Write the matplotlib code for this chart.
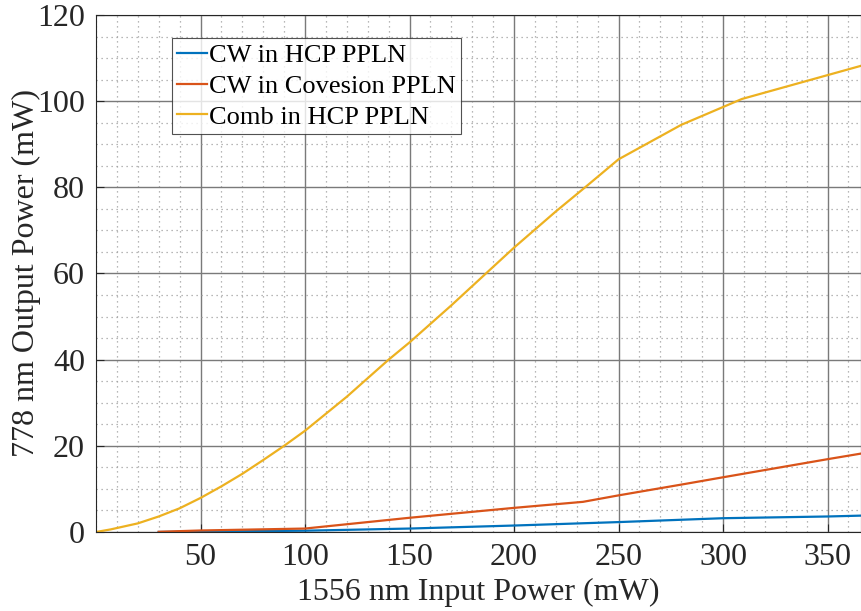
import matplotlib
matplotlib.use("Agg")
import matplotlib.pyplot as plt
from matplotlib.ticker import MultipleLocator

plt.rcParams['font.family'] = ['Liberation Serif', 'DejaVu Serif']

# Measured conversion curves (input power in mW -> SHG output power in mW)
cw_hcp_x = [30, 50, 100, 150, 200, 250, 300, 350, 366]
cw_hcp_y = [0.0, 0.1, 0.3, 0.8, 1.5, 2.3, 3.2, 3.6, 3.8]

cw_cov_x = [30, 50, 100, 150, 200, 233, 250, 280, 300, 350, 366]
cw_cov_y = [0.05, 0.35, 0.8, 3.3, 5.6, 7.0, 8.5, 11.0, 12.7, 16.9, 18.2]

comb_x = [0, 7, 20, 30, 40, 50, 60, 70, 80, 90, 100, 120, 140, 150, 170,
          187, 200, 220, 235, 250, 280, 309, 366]
comb_y = [0.0, 0.6, 2.0, 3.6, 5.5, 7.9, 10.6, 13.5, 16.7, 20.0, 23.5, 31.4,
          40.0, 44.0, 52.6, 60.2, 66.0, 74.4, 80.4, 86.5, 94.5, 100.5, 108.2]

series_labels = ['CW in HCP PPLN', 'CW in Covesion PPLN', 'Comb in HCP PPLN']
x_ticks = [50, 100, 150, 200, 250, 300, 350]
y_ticks = [0, 20, 40, 60, 80, 100, 120]

fig = plt.figure(figsize=(8.61, 6.11), dpi=100)
ax = fig.add_axes([0.1115, 0.1293, 0.8885, 0.8462])

ax.plot(cw_hcp_x, cw_hcp_y, color='#0072BD', lw=1.6, label=series_labels[0])
ax.plot(cw_cov_x, cw_cov_y, color='#D95319', lw=1.6, label=series_labels[1])
ax.plot(comb_x, comb_y, color='#EDB120', lw=1.6, label=series_labels[2])

ax.set_xlim(0, 366)
ax.set_ylim(0, 120)
ax.set_xticks(x_ticks)
ax.set_yticks(y_ticks)
ax.xaxis.set_minor_locator(MultipleLocator(10))
ax.yaxis.set_minor_locator(MultipleLocator(5))

ax.grid(True, which='major', color='#7a7a7a', lw=1.0, ls='-')
ax.grid(True, which='minor', color='#a0a0a0', lw=0.9, ls=(0, (1, 3)))
ax.set_axisbelow(True)

ax.tick_params(which='both', direction='in', labelsize=23, colors='#262626',
               length=6, width=0.8, pad=8)
ax.tick_params(which='minor', length=0)
for s in ax.spines.values():
    s.set_color('#262626')
    s.set_linewidth(0.8)

ax.set_xlabel('1556 nm Input Power (mW)', fontsize=23, color='#262626', labelpad=4)
ax.set_ylabel('778 nm Output Power (mW)', fontsize=23, color='#262626')
ax.yaxis.set_label_coords(-0.072, 0.5)

leg = ax.legend(loc='upper left', bbox_to_anchor=(0.099, 0.955), fontsize=19,
                frameon=True, fancybox=False, edgecolor='#262626',
                handlelength=1.15, handletextpad=0.05, borderpad=0.2,
                labelspacing=0.28, borderaxespad=0)
leg.get_frame().set_linewidth(0.8)

fig.savefig('out.png', dpi=100)
